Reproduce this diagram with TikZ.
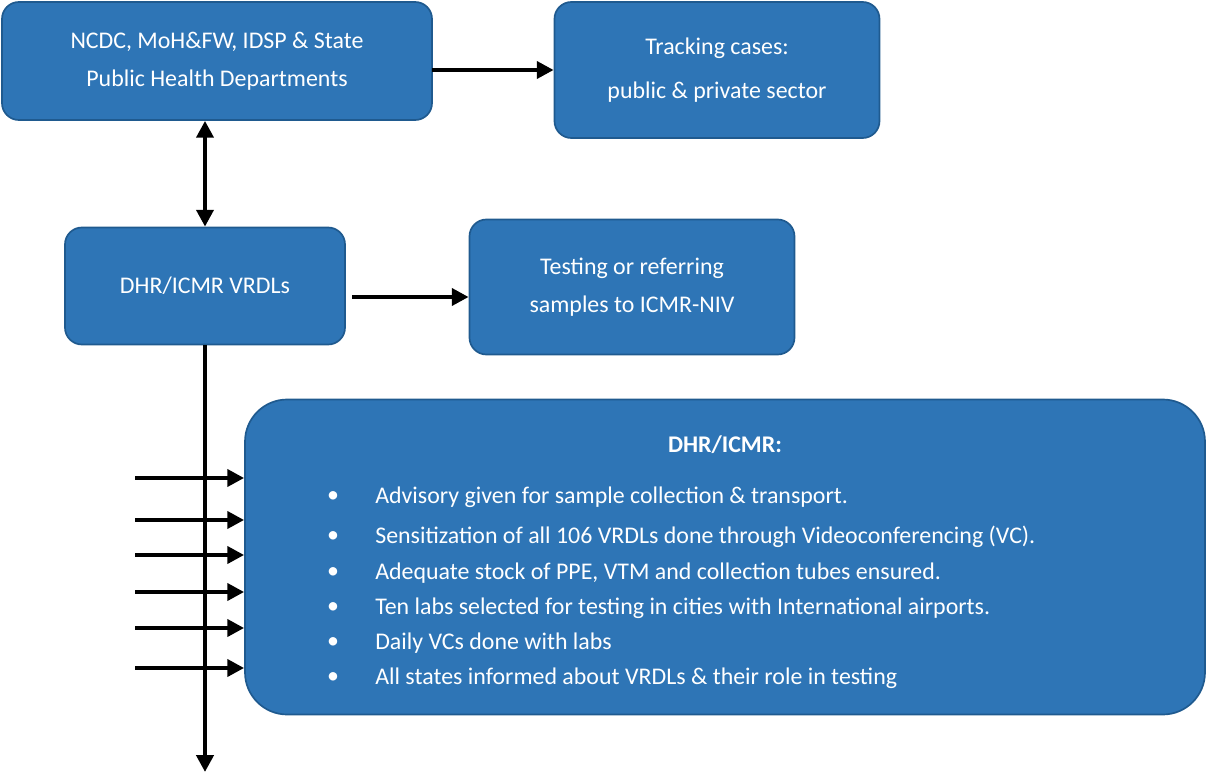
\documentclass[tikz,border=0pt]{standalone}
\usepackage{fontspec}
\setmainfont{Carlito}
\usetikzlibrary{arrows.meta}
\definecolor{bx}{HTML}{2E75B6}
\definecolor{bd}{HTML}{1F5A8F}
\begin{document}
\begin{tikzpicture}[x=0.025cm,y=-0.025cm,
 box/.style={draw=bd,line width=1.2pt,fill=bx,rounded corners=12pt,text=white,align=center,font=\fontsize{17}{27}\selectfont},
 ar/.style={line width=3pt,-{Triangle[length=12pt,width=12pt]}},
 lbl/.style={text=white,font=\fontsize{17}{20}\selectfont,anchor=west,inner sep=0}]
\useasboundingbox (0,0) rectangle (1211,775);
\node[box,minimum width=430*0.025cm,minimum height=118*0.025cm] (a) at (217,61) {NCDC, MoH\&FW, IDSP \& State\\Public Health Departments};
\node[box,minimum width=325*0.025cm,minimum height=136*0.025cm] (b) at (717,70) {Tracking cases:\\[4pt]public \& private sector};
\node[box,minimum width=280*0.025cm,minimum height=117*0.025cm] (c) at (205,286) {DHR/ICMR VRDLs};
\node[box,minimum width=325*0.025cm,minimum height=135*0.025cm] (d) at (632,287) {Testing or referring\\samples to ICMR-NIV};
\node[box,rounded corners=30pt,minimum width=960*0.025cm,minimum height=315*0.025cm] (e) at (725,557) {};
\draw[ar] (432,70) -- (b.west|-0,70);
\draw[line width=3pt,{Triangle[length=12pt,width=12pt]}-{Triangle[length=12pt,width=12pt]}] (a.south-|205,0) -- (c.north);
\draw[ar] (352,297) -- (d.west|-0,297);
\coordinate (bot) at (205,772);
\draw[ar] (c.south) -- (bot);
\foreach \y in {478,520,555,592,628,668} \draw[ar] (135,\y) -- (e.west|-0,\y);
\node[text=white,font=\bfseries\fontsize{17}{20}\selectfont] (t) at (725,445) {DHR/ICMR:};
\foreach \y/\s [count=\i] in {
497/Advisory given for sample collection \& transport.,
537/Sensitization of all 106 VRDLs done through Videoconferencing (VC).,
573/{Adequate stock of PPE, VTM and collection tubes ensured.},
608/Ten labs selected for testing in cities with International airports.,
643/Daily VCs done with labs,
678/All states informed about VRDLs \& their role in testing/transport.}{
\node[text=white,font=\fontsize{17}{20}\selectfont] (bu\i) at (333,\y) {•};
\node[lbl] (l\i) at (375,\y) {\s};}
\end{tikzpicture}
\end{document}
